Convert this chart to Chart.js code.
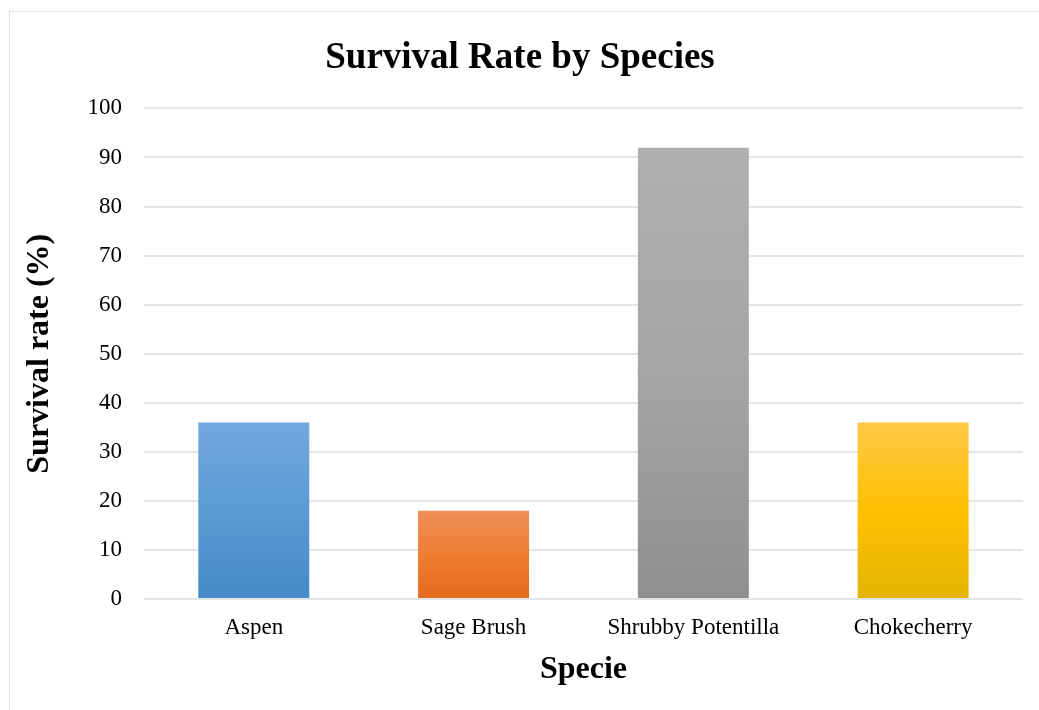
<!DOCTYPE html>
<html>
<head>
<meta charset="utf-8">
<script src="https://cdn.jsdelivr.net/npm/chart.js@4.4.0/dist/chart.umd.min.js"></script>
<style>
  html, body { margin: 0; padding: 0; background: #fff; overflow: hidden; }
  #frame { position: absolute; left: 9px; top: 11px; width: 1100px; height: 800px; border: 1px solid #dde1e6; }
  #wrap { position: absolute; left: 0; top: 0; width: 1039px; height: 710px; }
</style>
</head>
<body>
<div id="frame"></div>
<div id="wrap"><canvas id="survivalChart"></canvas></div>
<script>
// Data for the chart
const species = ["Aspen", "Sage Brush", "Shrubby Potentilla", "Chokecherry"];
const survivalRates = [36, 18, 92, 36];
// gradient stops per bar: top, middle, bottom
const barGradients = [
  ["#72a7dc", "#5b9bd5", "#4589c8"],
  ["#f18f58", "#ed7d31", "#e56a1d"],
  ["#b0b0b0", "#a5a5a5", "#8f8f8f"],
  ["#ffc846", "#ffc000", "#e3b300"]
];

function barFill(ctx) {
  const chart = ctx.chart;
  const yScale = chart.scales.y;
  const c = barGradients[ctx.dataIndex] || barGradients[0];
  if (!yScale || ctx.type !== 'data') return c[1];
  const top = yScale.getPixelForValue(ctx.raw);
  const base = yScale.getPixelForValue(0);
  if (!isFinite(top) || !isFinite(base) || top === base) return c[1];
  const g = chart.ctx.createLinearGradient(0, top, 0, base);
  g.addColorStop(0, c[0]);
  g.addColorStop(0.5, c[1]);
  g.addColorStop(1, c[2]);
  return g;
}

const config = {
  type: 'bar',
  data: {
    labels: species,
    datasets: [{
      label: "Survival rate (%)",
      data: survivalRates,
      backgroundColor: barFill,
      borderWidth: 0,
      categoryPercentage: 0.505,
      barPercentage: 1
    }]
  },
  options: {
    responsive: true,
    maintainAspectRatio: false,
    animation: false,
    layout: { padding: { left: 17, right: 16, top: 18, bottom: 17 } },
    plugins: {
      legend: { display: false },
      tooltip: { enabled: false },
      title: {
        display: true,
        text: "Survival Rate by Species",
        color: '#000',
        font: { family: "'Liberation Serif', serif", size: 37, weight: 'bold' },
        padding: { top: 18, bottom: 28 }
      }
    },
    scales: {
      x: {
        grid: { display: false },
        border: { display: false },
        ticks: { color: '#000', padding: 7, font: { family: "'Liberation Serif', serif", size: 23 } },
        title: {
          display: true,
          text: "Specie",
          color: '#000',
          font: { family: "'Liberation Serif', serif", size: 32, weight: 'bold' },
          padding: { top: 2 }
        }
      },
      y: {
        min: 0,
        max: 100,
        ticks: { stepSize: 10, color: '#000', padding: 22, font: { family: "'Liberation Serif', serif", size: 23 } },
        grid: { color: '#e1e4e9', lineWidth: 2, drawTicks: false },
        border: { display: false },
        title: {
          display: true,
          text: "Survival rate (%)",
          color: '#000',
          font: { family: "'Liberation Serif', serif", size: 32, weight: 'bold' },
          padding: { bottom: 6 }
        }
      }
    }
  }
};

// Create the chart
window.addEventListener('DOMContentLoaded', (event) => {
  const survivalChart = new Chart(document.getElementById("survivalChart"), config);
});
</script>
</body>
</html>
